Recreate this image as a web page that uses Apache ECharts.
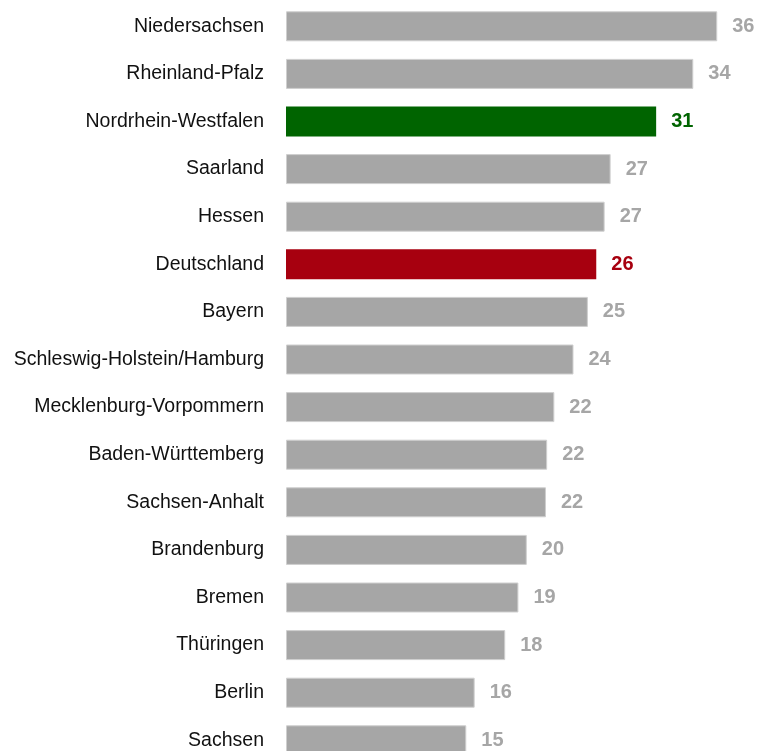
<!DOCTYPE html>
<html>
<head>
<meta charset="utf-8">
<script src="https://cdn.jsdelivr.net/npm/echarts@6/dist/echarts.min.js"></script>
<style>
  html, body { margin: 0; padding: 0; background: #fff; }
  #chart { width: 757px; height: 751px; }
</style>
</head>
<body>
<div id="chart"></div>
<script>
// Werte je Land (von oben nach unten)
var laender = ['Niedersachsen', 'Rheinland-Pfalz', 'Nordrhein-Westfalen', 'Saarland', 'Hessen',
  'Deutschland', 'Bayern', 'Schleswig-Holstein/Hamburg', 'Mecklenburg-Vorpommern',
  'Baden-Württemberg', 'Sachsen-Anhalt', 'Brandenburg', 'Bremen', 'Thüringen', 'Berlin', 'Sachsen'];
var werte = [36.0, 34.0, 30.9, 27.1, 26.6, 25.9, 25.2, 24.0, 22.4, 21.8, 21.7, 20.1, 19.4, 18.3, 15.75, 15.05];

var grau = '#a6a6a6';
var farben = { 'Nordrhein-Westfalen': '#006400', 'Deutschland': '#a7000f' }; // hervorgehobene Balken

var chart = echarts.init(document.getElementById('chart'));

var option = {
  animation: false,
  grid: {
    left: 286,
    top: 2.5,
    width: 455.2,
    height: 761.6,
    outerBoundsMode: 'none'
  },
  xAxis: {
    type: 'value',
    min: 0,
    max: 38,
    show: false
  },
  yAxis: {
    type: 'category',
    inverse: true,
    data: laender,
    axisLine: { show: false },
    axisTick: { show: false },
    axisLabel: {
      margin: 22,
      color: '#111',
      fontSize: 19.5,
      fontFamily: 'Liberation Sans, Arial, sans-serif'
    }
  },
  series: [{
    type: 'bar',
    barWidth: 30,
    data: werte.map(function (v, i) {
      var c = farben[laender[i]] || grau;
      return {
        value: v,
        itemStyle: c === grau ? { color: c, borderColor: '#cfcfcf', borderWidth: 1 } : { color: c },
        label: { color: c }
      };
    }),
    label: {
      show: true,
      position: 'right',
      distance: 15,
      fontWeight: 'bold',
      fontSize: 20,
      fontFamily: '"Liberation Sans Narrow", "Arial Narrow", "Liberation Sans", sans-serif',
      formatter: function (p) { return Math.round(p.value); }
    }
  }]
};

chart.setOption(option);
</script>
</body>
</html>
